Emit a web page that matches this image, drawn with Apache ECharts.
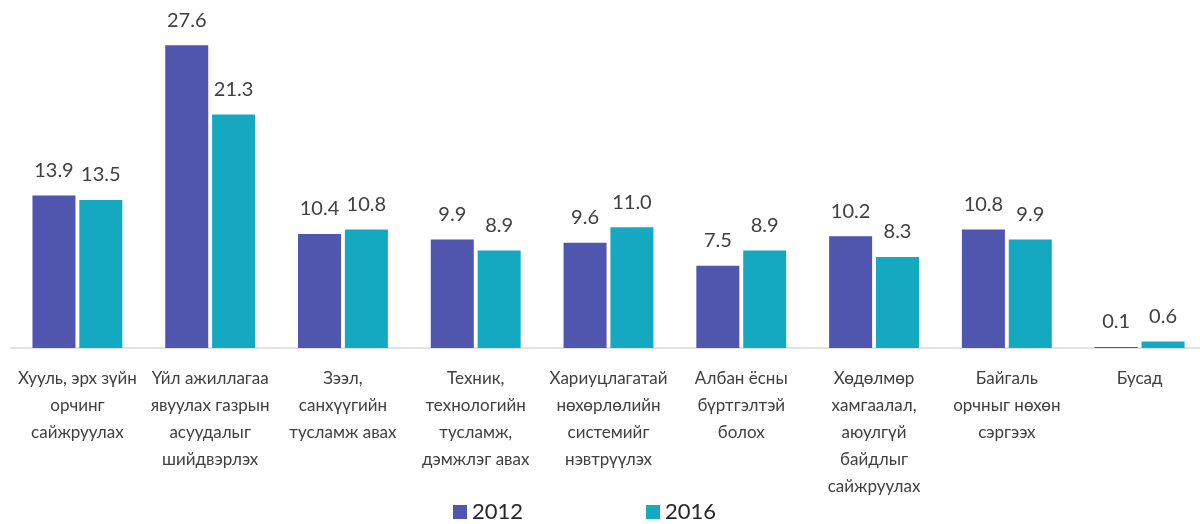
<!DOCTYPE html>
<html>
<head>
<meta charset="utf-8">
<script src="https://cdn.jsdelivr.net/npm/echarts@6/dist/echarts.min.js"></script>
<style>
  html, body { margin: 0; padding: 0; background: #fff; }
  #chart { width: 1200px; height: 524px; }
</style>
</head>
<body>
<div id="chart"></div>
<script>
// categories (line breaks as in the picture)
var categories = [
  "Хууль, эрх зүйн\nорчинг\nсайжруулах",
  "Үйл ажиллагаа\nявуулах газрын\nасуудалыг\nшийдвэрлэх",
  "Зээл,\nсанхүүгийн\nтусламж авах",
  "Техник,\nтехнологийн\nтусламж,\nдэмжлэг авах",
  "Хариуцлагатай\nнөхөрлөлийн\nсистемийг\nнэвтрүүлэх",
  "Албан ёсны\nбүртгэлтэй\nболох",
  "Хөдөлмөр\nхамгаалал,\nаюулгүй\nбайдлыг\nсайжруулах",
  "Байгаль\nорчныг нөхөн\nсэргээх",
  "Бусад"
];
var seriesNames = ["2012", "2016"];
var values2012 = [13.9, 27.6, 10.4, 9.9, 9.6, 7.5, 10.2, 10.8, 0.1];
var values2016 = [13.5, 21.3, 10.8, 8.9, 11.0, 8.9, 8.3, 9.9, 0.6];

var font = "Lato, 'Noto Sans', sans-serif";
var textColor = "#404040";

var myChart = echarts.init(document.getElementById("chart"));
myChart.setOption({
  animation: false,
  textStyle: { fontFamily: font },
  grid: {
    left: 11,
    width: 1195,
    top: 19,
    bottom: 176,
    containLabel: false,
    outerBoundsMode: "none"
  },
  legend: {
    top: 496,
    left: 448,
    itemWidth: 14,
    itemHeight: 14,
    itemGap: 123,
    icon: "rect",
    textStyle: { color: "#262626", fontSize: 22, fontFamily: font }
  },
  xAxis: {
    type: "category",
    data: categories,
    axisLine: { lineStyle: { color: "#d9d9d9", width: 1.5 } },
    axisTick: { show: false },
    axisLabel: {
      interval: 0,
      color: textColor,
      fontSize: 17,
      lineHeight: 27,
      margin: 17,
      fontFamily: font
    }
  },
  yAxis: {
    type: "value",
    min: 0,
    max: 30,
    show: false,
    splitLine: { show: false }
  },
  series: [
    {
      name: seriesNames[0],
      type: "bar",
      data: values2012,
      barWidth: 43,
      barGap: "9%",
      itemStyle: { color: "#5055AE" },
      label: {
        show: true,
        position: "top",
        distance: 15,
        color: textColor,
        fontSize: 20,
        fontFamily: font,
        formatter: function (p) { return p.value.toFixed(1); }
      }
    },
    {
      name: seriesNames[1],
      type: "bar",
      data: values2016,
      barWidth: 43,
      barGap: "9%",
      itemStyle: { color: "#15A9C1" },
      label: {
        show: true,
        position: "top",
        distance: 15,
        color: textColor,
        fontSize: 20,
        fontFamily: font,
        formatter: function (p) { return p.value.toFixed(1); }
      }
    }
  ]
});
</script>
</body>
</html>
